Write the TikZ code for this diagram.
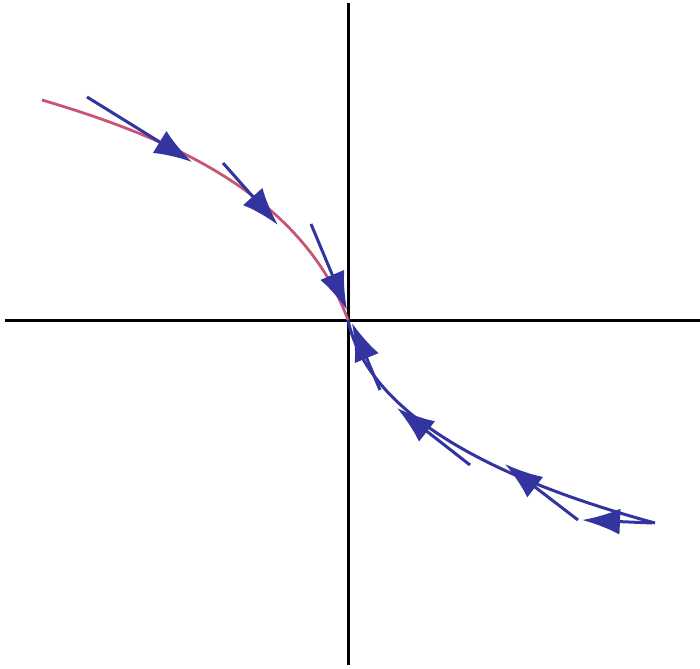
\documentclass[tikz,border=0pt]{standalone}
\usetikzlibrary{arrows.meta}
\definecolor{flowblue}{RGB}{52,52,160}
\definecolor{flowred}{RGB}{200,85,115}
\begin{document}
\begin{tikzpicture}[x=1pt, y=-1pt,
    axisline/.style={line width=3pt, black},
    orbit/.style={line width=2.8pt, flowred},
    tangent/.style={line width=3pt, flowblue, -{Latex[length=38pt, width=26pt]}}]
  \useasboundingbox (0,0) rectangle (700,668);
  \coordinate (O) at (348,320);
  % axes
  \draw[axisline] (348,3) -- (348,665);
  \draw[axisline] (5,320) -- (700,320);
  % incoming branch
  \draw[orbit] (42,100) .. controls (160,135) and (300,190) .. (O);
  \draw[tangent] (87,97) -- (192,162);
  \draw[tangent] (223,163) -- (278,225);
  \draw[tangent] (311,224) -- (347,310);
  % outgoing branch
  \draw[line width=3pt, flowblue] (O) .. controls (365,400) and (460,470) .. (655,523);
  \draw[tangent] (380,390) -- (352,323);
  \draw[tangent] (470,465) -- (397,408);
  \draw[tangent] (578,520) -- (505,464);
  \draw[tangent] (652,523) -- (582,520);
\end{tikzpicture}
\end{document}
